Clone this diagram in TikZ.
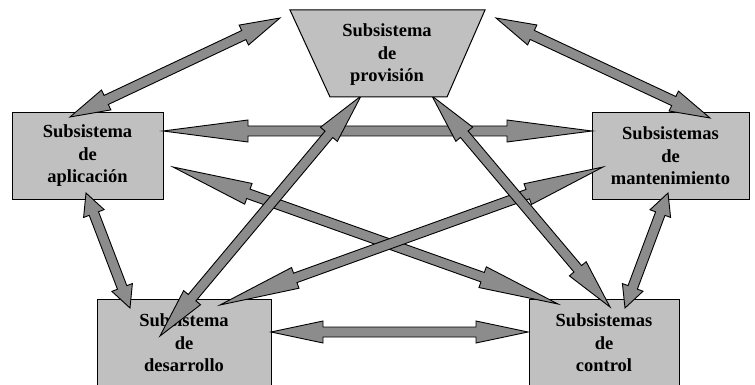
\documentclass[tikz,border=0pt]{standalone}
\usepackage{fontspec}
\setmainfont{Liberation Serif}
\usetikzlibrary{calc}
\definecolor{cajagris}{HTML}{C0C0C0}
\definecolor{flechagris}{HTML}{8C8C8C}

% double block arrow: from, to, head length
\newcommand{\dflecha}[3]{%
  \path[flecha] (#1)
    -- ($(#1)!#3!(#2)!11pt!90:(#2)$) -- ($(#1)!#3!(#2)!5pt!90:(#2)$)
    -- ($(#2)!#3!(#1)!5pt!-90:(#1)$) -- ($(#2)!#3!(#1)!11pt!-90:(#1)$)
    -- (#2)
    -- ($(#2)!#3!(#1)!11pt!90:(#1)$) -- ($(#2)!#3!(#1)!5pt!90:(#1)$)
    -- ($(#1)!#3!(#2)!5pt!-90:(#2)$) -- ($(#1)!#3!(#2)!11pt!-90:(#2)$)
    -- cycle;}

\begin{document}
\begin{tikzpicture}[x=1pt,y=-1pt,
    borde/.style={draw=black,line width=1pt,fill=cajagris},
    texto/.style={align=center,font=\fontsize{18.5}{22.5}\selectfont\bfseries},
    caja/.style={borde,texto,inner sep=0pt},
    flecha/.style={draw=black,line width=0.9pt,fill=flechagris,line join=miter}]
  \clip (0,0) rectangle (755,385);
  \node[caja,minimum width=151pt,minimum height=86pt] (apl) at (87.5,156) {Subsistema\\de\\aplicación};
  \node[caja,minimum width=157pt,minimum height=86pt] (man) at (670.5,156) {Subsistemas\\de\\mantenimiento};
  \node[caja,minimum width=174pt,minimum height=88pt] (des) at (184,343) {Subsistema\\de\\desarrollo};
  \node[caja,minimum width=150pt,minimum height=88pt] (con) at (604,343) {Subsistemas\\de\\control};

  \coordinate (pa) at (280,18);  \coordinate (ap) at (70,117);
  \coordinate (pm) at (496,18);  \coordinate (mp) at (710,118);
  \coordinate (am) at (163,131); \coordinate (ma) at (592,131);
  \coordinate (ad) at (86,193);  \coordinate (da) at (130,308);
  \coordinate (mc) at (668,193); \coordinate (cm) at (625,308);
  \coordinate (dc) at (271,332); \coordinate (cd) at (528,332);
  \coordinate (pd) at (361,96);  \coordinate (dp) at (160,336);
  \coordinate (pc) at (432,96);  \coordinate (cp) at (610,307);
  \coordinate (md) at (603,167); \coordinate (dm) at (220,305);
  \coordinate (ac) at (173,167); \coordinate (ca) at (558,304);

  \dflecha{pa}{ap}{40pt}
  \dflecha{pm}{mp}{40pt}
  \dflecha{am}{ma}{85pt}
  \dflecha{ad}{da}{22pt}
  \dflecha{mc}{cm}{22pt}
  \dflecha{dc}{cd}{52pt}
  \dflecha{ac}{ca}{80pt}
  \dflecha{md}{dm}{80pt}
  \dflecha{pd}{dp}{50pt}
  \dflecha{pc}{cp}{50pt}

  \draw[borde] (290,10) -- (485,10) -- (447,97) -- (330,97) -- cycle;
  \node[texto] (prov) at (387,55) {Subsistema\\de\\provisión};
\end{tikzpicture}
\end{document}
